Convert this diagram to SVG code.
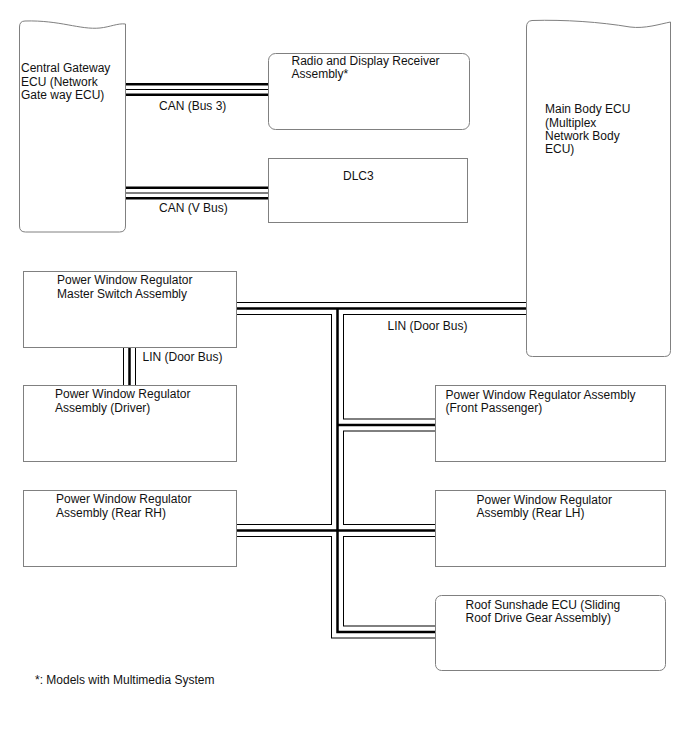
<svg xmlns="http://www.w3.org/2000/svg" width="688" height="755" viewBox="0 0 688 755">
<style>
.box{fill:#fff;stroke:#808080;stroke-width:1}
text{font-family:"Liberation Sans",Arial,sans-serif;font-size:12px;fill:#111}
.bo{fill:none;stroke:#000;stroke-linejoin:miter;stroke-linecap:butt}
.cw{fill:none;stroke:#fff;stroke-linejoin:miter;stroke-linecap:butt}
</style>
<rect width="688" height="755" fill="#fff"/>
<g id="gateway">
<path class="box" d="M19.5,27 Q19.5,21 25,21 C60,20 80,30 100,28 C110,27 118,23 125.5,24 V226 Q125.5,232 119.5,232 H25.5 Q19.5,232 19.5,226 Z"/>
<text x="21" y="72">Central Gateway</text>
<text x="21" y="85.5">ECU (Network</text>
<text x="21" y="99">Gate way ECU)</text>
</g>
<g id="radio">
<rect class="box" x="268.5" y="53.5" width="201" height="76" rx="7"/>
<text x="291.5" y="64.5">Radio and Display Receiver</text>
<text x="291.5" y="78">Assembly*</text>
</g>
<g id="dlc3">
<rect class="box" x="268.5" y="158.5" width="199" height="64"/>
<text x="343" y="180">DLC3</text>
</g>
<g id="mainbody">
<path class="box" d="M526.5,27 Q526.5,21 532,20.5 C565,19.5 600,22 630,27 C645,29 660,24 670.5,22 V350.5 Q670.5,356.5 664.5,356.5 H532.5 Q526.5,356.5 526.5,350.5 Z"/>
<text x="545" y="113">Main Body ECU</text>
<text x="545" y="126.5">(Multiplex</text>
<text x="545" y="140">Network Body</text>
<text x="545" y="153">ECU)</text>
</g>
<g id="master">
<rect class="box" x="23.5" y="271.5" width="213" height="76"/>
<text x="57" y="284">Power Window Regulator</text>
<text x="57" y="297.5">Master Switch Assembly</text>
</g>
<g id="driver">
<rect class="box" x="23.5" y="385.5" width="213" height="76"/>
<text x="55" y="398">Power Window Regulator</text>
<text x="55" y="411.5">Assembly (Driver)</text>
</g>
<g id="rearrh">
<rect class="box" x="23.5" y="490.5" width="213" height="76"/>
<text x="56" y="503">Power Window Regulator</text>
<text x="56" y="517">Assembly (Rear RH)</text>
</g>
<g id="frontpass">
<rect class="box" x="435.5" y="385.5" width="230" height="76"/>
<text x="445.5" y="398.5">Power Window Regulator Assembly</text>
<text x="445.5" y="412">(Front Passenger)</text>
</g>
<g id="rearlh">
<rect class="box" x="435.5" y="490.5" width="230" height="76"/>
<text x="476.5" y="503.5">Power Window Regulator</text>
<text x="476.5" y="517">Assembly (Rear LH)</text>
</g>
<g id="roof">
<rect class="box" x="435.5" y="595.5" width="230" height="75" rx="6"/>
<text x="465.5" y="608.5">Roof Sunshade ECU (Sliding</text>
<text x="465.5" y="622">Roof Drive Gear Assembly)</text>
</g>
<g id="connectors">
<g>
<path class="bo" stroke-width="13" d="M126,89.5 H268 M126,193 H268"/>
<path class="cw" stroke-width="8" d="M126,89.5 H268 M126,193 H268"/>
<path class="bo" stroke-width="1" d="M126,89.5 H268 M126,193 H268"/>
</g>
<g>
<path class="bo" stroke-width="13" d="M237,308.5 H526 M337.5,308.5 V632 H435 M337.5,425 H435 M237,530.5 H435 M129.5,348 V385"/>
<path class="cw" stroke-width="11" d="M237,308.5 H526 M337.5,308.5 V632 H435 M337.5,425 H435 M237,530.5 H435 M129.5,348 V385"/>
<path class="bo" stroke-width="2.5" d="M237,308.5 H526 M337.5,308.5 V632 H435 M337.5,425 H435 M237,530.5 H435 M129.5,348 V385"/>
</g>
<text x="159" y="110">CAN (Bus 3)</text>
<text x="159" y="211.5">CAN (V Bus)</text>
<text x="387.5" y="329.5">LIN (Door Bus)</text>
<text x="142.5" y="361">LIN (Door Bus)</text>
</g>
<text x="35" y="684">*: Models with Multimedia System</text>
</svg>
